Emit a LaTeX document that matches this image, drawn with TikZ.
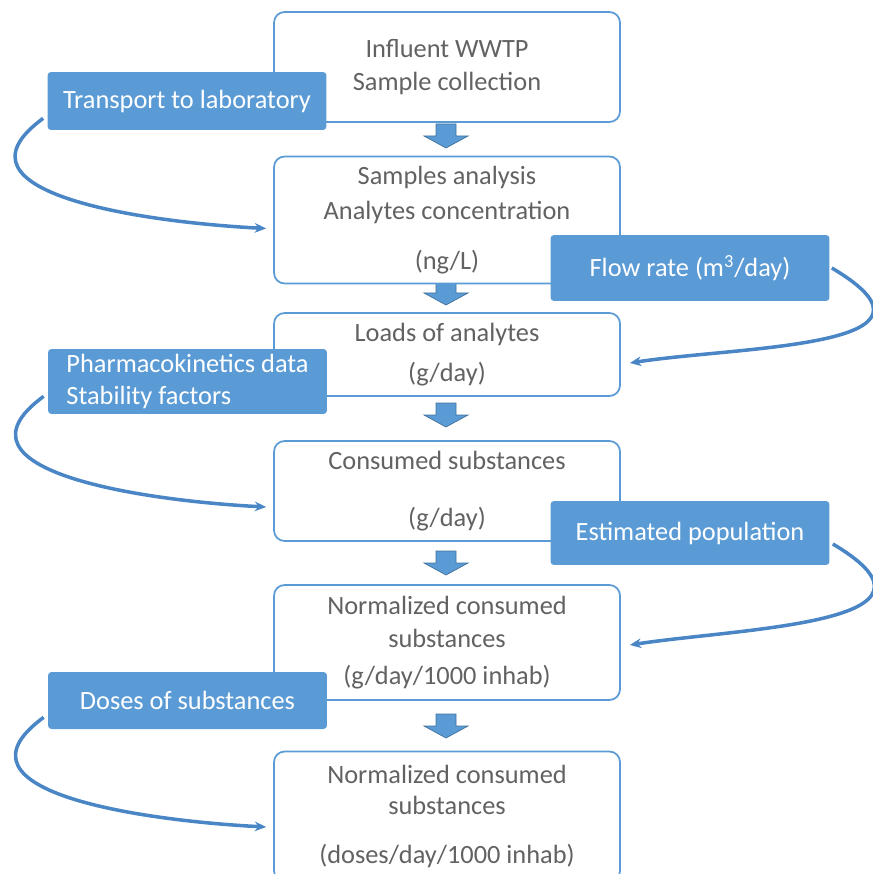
\documentclass[tikz,border=0pt]{standalone}
\usepackage{fontspec}
\setmainfont{Carlito}
\usetikzlibrary{arrows.meta,calc}

\definecolor{boxblue}{HTML}{5B9BD5}
\definecolor{linkblue}{HTML}{4A86C5}
\definecolor{arrowedge}{HTML}{41719C}
\definecolor{textgrey}{HTML}{626262}

\tikzset{
  stagebox/.style={draw=boxblue, line width=1pt, fill=white, rounded corners=6pt,
    minimum width=6.92cm, align=center, text=textgrey, inner sep=0pt},
  inputbox/.style={fill=boxblue, rounded corners=2pt, minimum width=5.58cm,
    text=white, inner sep=0pt},
  feed/.style={linkblue, line width=2pt, -{Stealth[length=6.5pt,width=5.5pt]}},
}

\begin{document}
\begin{tikzpicture}[x=0.02cm, y=-0.02cm, font=\fontsize{15}{18.7}\selectfont]
    \useasboundingbox (0,0) rectangle (872,874);

    % block arrows between the stages
    \foreach \tip in {148,305,427,575,738} {
        \draw[arrowedge, fill=boxblue, line width=0.4pt]
            (436,\tip-24) -- (456,\tip-24) -- (456,\tip-12) -- (468,\tip-12)
            -- (446,\tip) -- (424,\tip-12) -- (436,\tip-12) -- cycle;
    }

    % main stages
    \node[stagebox, minimum height=2.2cm] (influent) at (447,67)
        {Influent WWTP\\Sample collection};
    \node[stagebox, minimum height=2.54cm] (analysis) at (447,220)
        {Samples analysis\\[1pt]Analytes concentration\\[9.6pt](ng/L)};
    \node[stagebox, minimum height=1.66cm] (loads) at (447,354.5)
        {Loads of analytes\\[4.5pt](g/day)};
    \node[stagebox, minimum height=2cm] (consumed) at (447,491)
        {Consumed substances\\[13.6pt](g/day)};
    \node[stagebox, minimum height=2.3cm] (normalized) at (447,642.5)
        {Normalized consumed\\substances\\[2.3pt](g/day/1000 inhab)};
    \node[stagebox, minimum height=2.6cm] (doses) at (447,816.5)
        {Normalized consumed\\[-1pt]substances\\[9.6pt](doses/day/1000 inhab)};

    % inputs
    \node[inputbox, minimum height=1.16cm] (transport) at (187,101) {Transport to laboratory};
    \node[inputbox, minimum height=1.32cm] (flowrate) at (690,268) {Flow rate (m\textsuperscript{3}/day)};
    \node[inputbox, minimum height=1.3cm, align=left] (pharma) at (187.5,381.5)
        {Pharmacokinetics data\\Stability factors};
    \node[inputbox, minimum height=1.28cm] (population) at (690,533) {Estimated population};
    \node[inputbox, minimum height=1.14cm] (dosedata) at (187.5,700.5) {Doses of substances};

    % curved feeds into the stages
    \draw[feed] ($(transport.south west)+(-4,-12)$) .. controls +(-104,76) and +(-117,-6) .. ($(analysis.west)+(-7,8.5)$);
    \draw[feed] ($(pharma.south west)+(-4,-18)$) .. controls +(-104,76) and +(-117,-6) .. ($(consumed.west)+(-7,16)$);
    \draw[feed] ($(dosedata.south west)+(-4,-12)$) .. controls +(-104,76) and +(-117,-6) .. ($(doses.west)+(-7,10.5)$);
    \draw[feed] ($(flowrate.east)+(2,0)$) .. controls +(135,80) and +(110,-17) .. ($(loads.east)+(9,8.5)$);
    \draw[feed] ($(population.east)+(3,11)$) .. controls +(135,80) and +(110,-17) .. ($(normalized.east)+(9,2.5)$);
\end{tikzpicture}
\end{document}
